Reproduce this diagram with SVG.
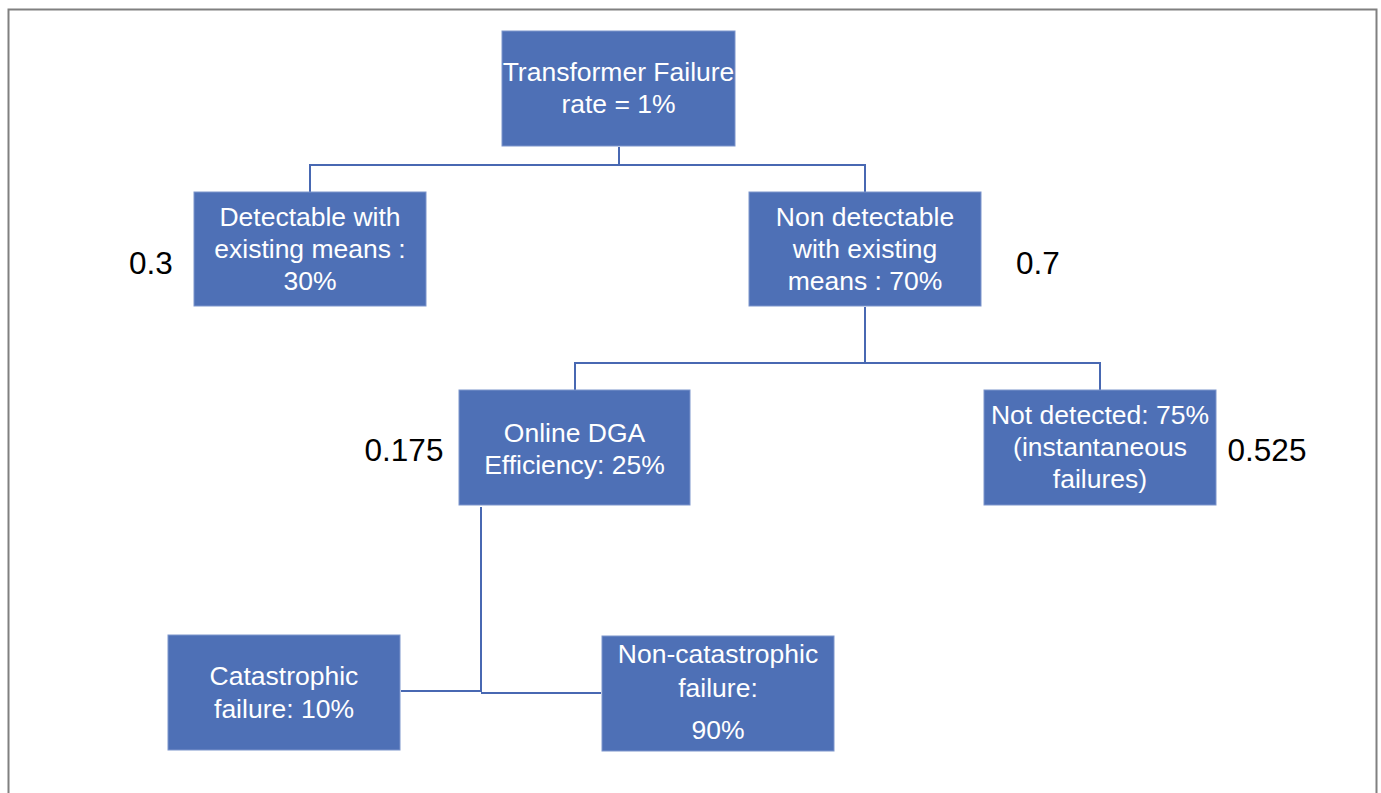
<svg xmlns="http://www.w3.org/2000/svg" width="1381" height="793" viewBox="0 0 1381 793">
<style>
.box{fill:#4E70B6;stroke:#7C95CC;stroke-width:1}
.bt{fill:#fff;font-family:"Liberation Sans",Arial,sans-serif;font-size:26.5px;text-anchor:middle}
.num{fill:#000;font-family:"Liberation Sans",Arial,sans-serif;font-size:31.5px;text-anchor:middle}
.conn{fill:none;stroke:#4868B2;stroke-width:2}
</style>
<rect x="0" y="0" width="1381" height="793" fill="#fff"/>
<path d="M8.5 800 V9.5 H1376.5 V800" fill="none" stroke="#808080" stroke-width="2"/>
<g id="connectors">
<path class="conn" d="M619 147 V165 M310 192 V165 H865 V192"/>
<path class="conn" d="M865 307 V363 M575 390 V363 H1100 V390"/>
<path class="conn" d="M481 507 V692 M401 691 H481 M481 693 H601"/>
</g>
<g id="n-root"><rect class="box" x="502" y="31" width="233" height="115"/>
<text class="bt" x="618.5" y="81">Transformer Failure</text><text class="bt" x="618.5" y="113">rate = 1%</text></g>
<g id="n-detectable"><rect class="box" x="194" y="192" width="232" height="114"/>
<text class="bt" x="310" y="226">Detectable with</text><text class="bt" x="310" y="258">existing means :</text><text class="bt" x="310" y="290">30%</text></g>
<g id="n-nondetectable"><rect class="box" x="749" y="192" width="232" height="114"/>
<text class="bt" x="865" y="226">Non detectable</text><text class="bt" x="865" y="258">with existing</text><text class="bt" x="865" y="290">means : 70%</text></g>
<g id="n-dga"><rect class="box" x="459" y="390" width="231" height="115"/>
<text class="bt" x="574.5" y="442">Online DGA</text><text class="bt" x="574.5" y="474">Efficiency: 25%</text></g>
<g id="n-notdetected"><rect class="box" x="984" y="390" width="232" height="115"/>
<text class="bt" x="1100" y="424">Not detected: 75%</text><text class="bt" x="1100" y="456">(instantaneous</text><text class="bt" x="1100" y="488">failures)</text></g>
<g id="n-catastrophic"><rect class="box" x="168" y="635" width="232" height="115"/>
<text class="bt" x="284" y="685">Catastrophic</text><text class="bt" x="284" y="718">failure: 10%</text></g>
<g id="n-noncatastrophic"><rect class="box" x="602" y="636" width="232" height="115"/>
<text class="bt" x="718" y="663">Non-catastrophic</text><text class="bt" x="718" y="697">failure:</text><text class="bt" x="718" y="739">90%</text></g>
<g id="labels">
<text class="num" x="151" y="274">0.3</text>
<text class="num" x="1038" y="274">0.7</text>
<text class="num" x="404" y="461">0.175</text>
<text class="num" x="1267" y="461">0.525</text>
</g>
</svg>
